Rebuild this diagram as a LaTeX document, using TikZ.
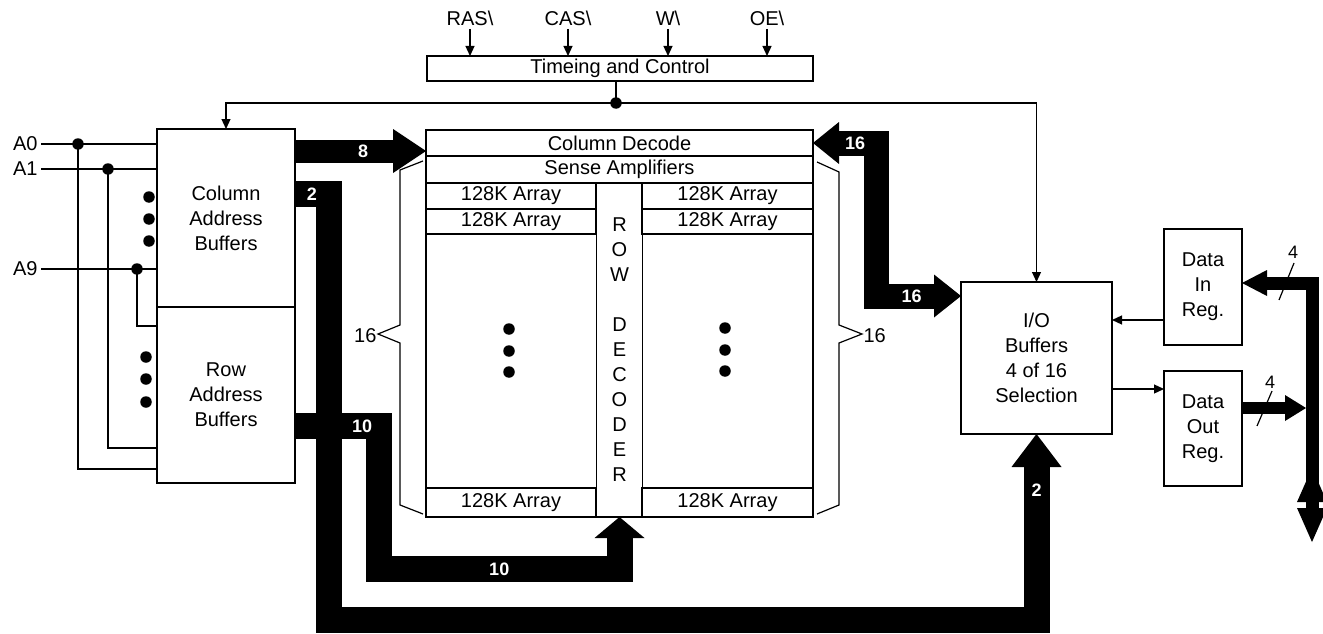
\documentclass[tikz,border=0pt]{standalone}
\usepackage{fontspec}
\setmainfont{Liberation Sans}
\usetikzlibrary{arrows.meta,positioning}

\begin{document}
\begin{tikzpicture}[
  x=1pt, y=-1pt,
  font=\fontsize{20}{25}\selectfont,
  box/.style={draw, line width=1.2pt, inner sep=0pt, outer sep=0pt, align=center},
  arrbox/.style={box, minimum width=170pt, minimum height=26pt},
  wire/.style={line width=1.2pt},
  sig/.style={wire, -{Triangle[length=10pt, width=9pt]}},
  bus/.style={line width=26pt, line join=miter, -{Triangle[length=32pt, width=48pt, line width=0pt]}},
  dbus/.style={line width=13pt, line join=miter},
  buslbl/.style={text=white, font=\fontsize{18}{22}\selectfont\bfseries, inner sep=0pt},
  dot/.style={circle, fill, inner sep=0pt, minimum size=11.5pt}
]
\useasboundingbox (0,0) rectangle (1323,634);

% boxes
\node[box, line width=2pt, minimum width=386pt, minimum height=25pt] (ctrl) at (620,68.5) {Timeing and Control};
\node[box, minimum width=138pt, minimum height=178pt] (colbuf) at (226,218) {Column\\Address\\Buffers};
\node[box, minimum width=138pt, minimum height=176pt, below=0pt of colbuf] (rowbuf) {Row\\Address\\Buffers};
\node[box, minimum width=151pt, minimum height=152pt] (iobuf) at (1036.5,358) {I/O\\Buffers\\4 of 16\\Selection};
\node[box, minimum width=78pt, minimum height=116pt] (datain) at (1203,287) {Data\\In\\Reg.};
\node[box, minimum width=78pt, minimum height=115pt] (dataout) at (1203,428.5) {Data\\Out\\Reg.};

% memory block
\node[box, minimum width=387pt, minimum height=387pt] (mem) at (619.5,323.5) {};
\node[box, minimum width=387pt, minimum height=26pt, below right=0pt of mem.north west] (coldec) {Column Decode};
\node[box, minimum width=387pt, minimum height=27pt, below=0pt of coldec] (sense) {Sense Amplifiers};
\node[box, minimum width=46pt, minimum height=334pt, below=0pt of sense] (rowdec) {R\\O\\W\\[25pt]D\\E\\C\\O\\D\\E\\R};
\node[arrbox, below right=0pt of sense.south west] (arrL1) {128K Array};
\node[arrbox, minimum height=25pt, below=0pt of arrL1] (arrL2) {128K Array};
\node[arrbox, minimum height=29pt, above right=0pt of mem.south west] (arrL3) {128K Array};
\node[arrbox, minimum width=171pt, below left=0pt of sense.south east] (arrR1) {128K Array};
\node[arrbox, minimum width=171pt, minimum height=25pt, below=0pt of arrR1] (arrR2) {128K Array};
\node[arrbox, minimum width=171pt, minimum height=29pt, above left=0pt of mem.south east] (arrR3) {128K Array};
\foreach \i/\y in {1/329, 2/351, 3/372} {
  \node[dot] (ldot\i) at (509,\y) {};
  \node[dot] (rtdot\i) at (725,\y-1) {};
}

% control inputs
\foreach \sname/\sx in {RAS/470, CAS/568, W/668, OE/767} {
  \node (\sname) at (\sx,18) {\sname\textbackslash};
  \draw[sig] (\sname.south) -- (\sname.south |- ctrl.north);
}
\node[dot] (tap) at (616,103) {};
\draw[wire] (tap |- ctrl.south) -- (tap.center);
\draw[sig] (tap.center) -| (colbuf.north);
\draw[sig] (tap.center) -| (iobuf.north);

% address inputs
\foreach \aname/\ay/\tx/\ry in {A0/144/78/469, A1/169/108/448, A9/269/137/326} {
  \node[anchor=east] (\aname) at (41,\ay) {\aname};
  \draw[wire] (\aname.east) -- (\aname.east -| colbuf.west);
  \node[dot] (t\aname) at (\tx,\ay) {};
  \draw[wire] (t\aname.center) |- (colbuf.west |- 0,\ry);
}
\foreach \i/\y in {1/197, 2/219, 3/241} \node[dot] (cdot\i) at (149,\y) {};
\foreach \i/\y in {1/357, 2/379, 3/402} \node[dot] (rdot\i) at (146,\y) {};

% braces
\draw[wire] (423,161) -- (400,170) -- (400,325) -- (378,334) -- (400,343) -- (400,505) -- (423,514);
\node[anchor=east] (nleft) at (380,336) {16};
\draw[wire] (817,162) -- (839,172) -- (839,325) -- (862,334) -- (839,343) -- (839,505) -- (817,514);
\node[anchor=west] (nright) at (860,336) {16};

% address buses
\draw[bus, line width=23pt, -{Triangle[length=33pt, width=44pt, line width=0pt]}] (colbuf.east |- 0,151) -- node[buslbl, pos=0.52]{8} (coldec.west |- 0,151);
\draw[bus, -{Triangle[length=33pt, width=50pt, line width=0pt]}] (colbuf.east |- 0,194) -- node[buslbl]{2} (329,194) -- (329,620) -- (iobuf.south |- 0,620) -- node[buslbl, pos=0.7]{2} (iobuf.south);
\draw[bus, -{Triangle[length=21pt, width=50pt, line width=0pt]}] (rowbuf.east |- 0,426) -- node[buslbl, pos=0.8]{10} (379,426) -- (379,569) -- node[buslbl]{10} (rowdec.south |- 0,569) -- (rowdec.south);

% data buses
\draw[bus, line width=25pt, {Triangle[length=26pt, width=42pt, line width=0pt]}-{Triangle[length=27pt, width=43pt, line width=0pt]}] (coldec.east) -- node[buslbl, pos=0.67]{16} (876,143) -- (876,296) -- node[buslbl, pos=0.42]{16} (iobuf.west |- 0,296);
\draw[sig] (datain.west |- 0,320) -- (iobuf.east |- 0,320);
\draw[sig] (iobuf.east |- 0,389) -- (dataout.west |- 0,389);
\draw[dbus, -{Triangle[length=25pt, width=26pt, line width=0pt]}] (1312,490) -- (1312,283) -- (datain.east |- 0,283);
\draw[dbus, line width=12pt, -{Triangle[length=21pt, width=26pt, line width=0pt]}] (dataout.east |- 0,408) -- (1306,408);
\draw[dbus, {Triangle[length=34pt, width=30pt, line width=0pt]}-{Triangle[length=34pt, width=30pt, line width=0pt]}] (1312,468) -- (1312,542);
\draw[wire] (1279,300) -- (1294,263);
\node[font=\fontsize{18}{22}\selectfont] (win) at (1293,252) {4};
\draw[wire] (1257,426) -- (1272,391);
\node[font=\fontsize{18}{22}\selectfont] (wout) at (1270,382) {4};
\end{tikzpicture}
\end{document}
